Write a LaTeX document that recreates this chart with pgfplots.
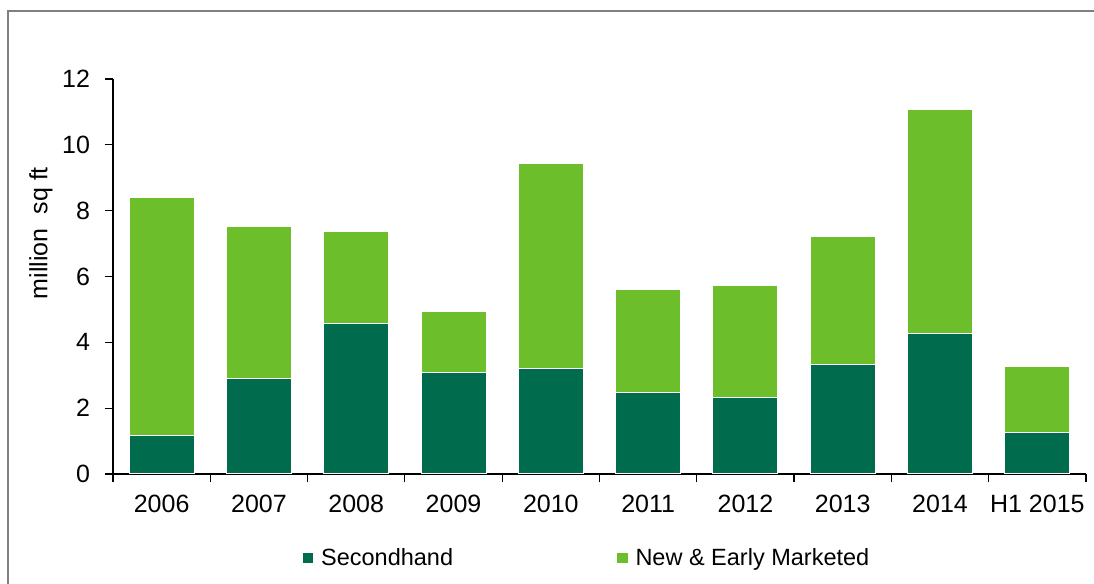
\documentclass[border=0pt]{standalone}
\usepackage{pgfplots}
\pgfplotsset{compat=1.18}
\usepackage{fontspec}
\setmainfont{Liberation Sans}
\definecolor{darkg}{RGB}{0,107,77}
\definecolor{lightg}{RGB}{108,190,42}
\definecolor{framegray}{RGB}{128,128,128}
\begin{document}
\begin{tikzpicture}
\path[use as bounding box] (0,0) rectangle (547pt,292pt);
\draw[framegray, line width=1.2pt] (4pt,0) -- (4pt,286.5pt) -- (547pt,286.5pt);
\begin{axis}[
  at={(56.5pt,55pt)}, anchor=south west,
  scale only axis, width=486.5pt, height=197.5pt,
  ybar stacked, bar width=0.668,
  xmin=-0.5, xmax=9.5, ymin=0, ymax=12,
  xtick={-0.5,0.5,...,9.5},
  x tick label as interval,
  xticklabels={2006,2007,2008,2009,2010,2011,2012,2013,2014,H1 2015},
  ytick={0,2,...,12},
  axis lines*=left,
  tick align=outside,
  major tick length=4pt,
  tick style={black, line width=0.6pt},
  axis line style={black, line width=0.6pt},
  font=\fontsize{12.5}{15}\selectfont,
  /pgf/number format/assume math mode=true,
  ylabel={million\ \ sq ft},
  ylabel style={at={(axis description cs:-0.074,0.61)}, anchor=center},
  xticklabel style={yshift=-3pt},
  yticklabel style={xshift=-4pt},
  legend style={at={(axis description cs:0.195,-0.213)}, anchor=west, draw=none, legend columns=2,
    inner sep=0pt, outer sep=0pt,
    /tikz/every even column/.append style={column sep=80pt}, font=\fontsize{11.75}{14}\selectfont},
  legend image code/.code={\fill[#1,draw=none] (0pt,-2.6pt) rectangle (5.2pt,2.6pt);},
  legend cell align=left,
  every axis plot/.append style={draw=white, line width=0.5pt},
]
\addplot[fill=darkg] coordinates {(0,1.17) (1,2.91) (2,4.58) (3,3.07) (4,3.19) (5,2.49) (6,2.31) (7,3.33) (8,4.28) (9,1.25)};
\addplot[fill=lightg] coordinates {(0,7.22) (1,4.60) (2,2.79) (3,1.86) (4,6.25) (5,3.13) (6,3.42) (7,3.89) (8,6.79) (9,2.03)};
\legend{\hspace{2pt}Secondhand, \hspace{2pt}New \& Early Marketed}
\end{axis}
\end{tikzpicture}
\end{document}
